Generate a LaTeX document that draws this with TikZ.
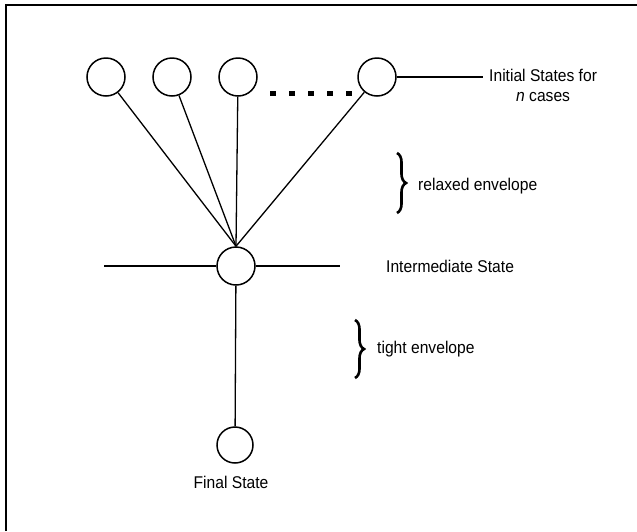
\documentclass[tikz,border=0pt]{standalone}
\usepackage{fontspec}
\setmainfont{Liberation Sans}[FakeStretch=0.92]
\usetikzlibrary{decorations.pathreplacing}

\tikzset{
  state/.style={draw,circle,minimum size=38pt,inner sep=0pt,line width=1.5pt},
  wire/.style={line width=1.3pt},
  envbrace/.style={decorate,decoration={brace,amplitude=9pt},line width=2.6pt},
  lbl/.style={font=\fontsize{17}{20}\selectfont,inner sep=0pt}
}

\begin{document}
\begin{tikzpicture}[x=1pt,y=-1pt]
\useasboundingbox (0,0) rectangle (637,531);

% open frame, top and left only
\draw[line width=2pt] (6,531) -- (6,5) -- (637,5);

% the n starting states
\foreach \v/\x in 
{   cAPt/106,
    cBPt/172,
    cCPt/238,
    cDPt/377
}
{
    \node[state] (\v) at (\x,77) {};
};
\draw[line width=5pt,dash pattern=on 6pt off 13pt] (270,93) -- (352,93);

\node[state] (cMPt) at (236,266) {};
\node[state,minimum size=36pt] (cFPt) at (235,445) {};

% paths into the intermediate state
\foreach \v in {cAPt,cBPt,cCPt,cDPt}
{
    \draw[wire] (\v) -- (cMPt.north);
};
\draw[wire] (104,266) -- (cMPt.west);
\draw[wire] (cMPt.east) -- (340,266);
\draw[wire] (cMPt) -- (cFPt);

\coordinate (cTagPt) at (483,77);
\draw[wire] (cDPt.east) -- (cTagPt);
\node[lbl,align=center,anchor=west] (tIni) at (489,85) {Initial States for\\\textit{n} cases};
\node[lbl,anchor=west] (tMid) at (386,266) {Intermediate State};
\node[lbl] (tFin) at (231,482) {Final State};

% envelopes
\draw[envbrace] (397,153) -- (397,213);
\node[lbl,anchor=west] (tRel) at (418,186) {relaxed envelope};
\draw[envbrace] (355,320) -- (355,378);
\node[lbl,anchor=west] (tTig) at (377,349) {tight envelope};

\end{tikzpicture}
\end{document}
